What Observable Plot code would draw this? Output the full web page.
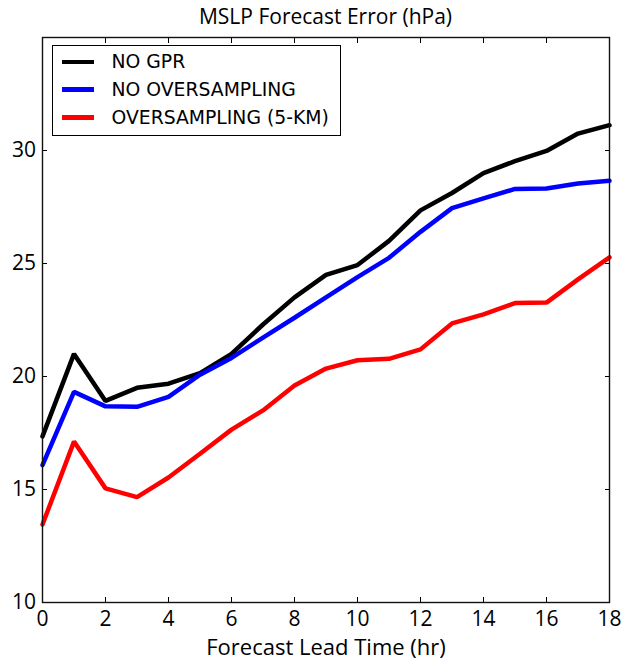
<!DOCTYPE html>
<html>
<head>
<meta charset="utf-8">
<script src="https://cdn.jsdelivr.net/npm/d3@7"></script>
<script src="https://cdn.jsdelivr.net/npm/@observablehq/plot@0.6"></script>
<style>
  body { margin: 0; background: #fff; font-family: "Open Sans", sans-serif; }
  #wrap { position: relative; width: 622px; height: 659px; }
  #title { position: absolute; left: 42px; width: 567px; top: 3px; text-align: center; font-size: 21px; color: #000; line-height: 27px; }
  #legend { position: absolute; left: 52px; top: 45px; width: 289px; height: 91px; border: 1.3px solid #000; background: #fff; box-sizing: border-box; padding-top: 2px; }
  .item { display: flex; align-items: center; height: 27.8px; font-family: "DejaVu Sans", sans-serif; font-size: 18.8px; color: #000; }
  .swatch { width: 32px; height: 4.5px; margin-left: 9px; margin-right: 17.5px; flex: none; }
</style>
</head>
<body>
<div id="wrap">
  <div id="chart"></div>
  <div id="title">MSLP Forecast Error (hPa)</div>
  <div id="legend"></div>
</div>
<script>
// Forecast lead time, hours
const leadTimes = [0, 1, 2, 3, 4, 5, 6, 7, 8, 9, 10, 11, 12, 13, 14, 15, 16, 17, 18];

// MSLP forecast error (hPa) for each experiment
const noGpr = [17.35, 21.0, 18.92, 19.5, 19.68, 20.15, 21.0, 22.3, 23.5, 24.5, 24.93, 26.0, 27.35, 28.12, 29.0, 29.53, 29.98, 30.75, 31.12];
const noOversampling = [16.08, 19.32, 18.68, 18.66, 19.1, 20.08, 20.82, 21.72, 22.6, 23.5, 24.4, 25.25, 26.4, 27.45, 27.88, 28.3, 28.32, 28.54, 28.66];
const oversampling5km = [13.45, 17.12, 15.05, 14.66, 15.53, 16.58, 17.65, 18.5, 19.6, 20.35, 20.72, 20.78, 21.2, 22.35, 22.75, 23.25, 23.27, 24.3, 25.27];

const seriesNames = ["NO GPR", "NO OVERSAMPLING", "OVERSAMPLING (5-KM)"];
const seriesColors = ["#000000", "#0000ff", "#ff0000"];
const seriesValues = [noGpr, noOversampling, oversampling5km];

const xTicks = [0, 2, 4, 6, 8, 10, 12, 14, 16, 18];
const yTicks = [10, 15, 20, 25, 30];

const rows = seriesNames.flatMap((name, i) =>
  leadTimes.map((h, j) => ({series: name, hour: h, error: seriesValues[i][j]}))
);

const noText = () => "";

const chart = Plot.plot({
  width: 622,
  height: 659,
  marginTop: 37,
  marginBottom: 57,
  marginLeft: 42,
  marginRight: 13,
  style: {fontFamily: "Open Sans", fontSize: "21px", color: "#000", background: "#fff", overflow: "visible"},
  x: {domain: [0, 18]},
  y: {domain: [10, 35]},
  color: {domain: seriesNames, range: seriesColors},
  marks: [
    Plot.line(rows, {x: "hour", y: "error", z: "series", stroke: "series", strokeWidth: 4.5, strokeLinejoin: "miter"}),
    // tick labels and axis titles
    Plot.axisX({ticks: xTicks, tickSize: 0, tickPadding: 8.5, tickFormat: d => String(d),
      label: "Forecast Lead Time (hr)", labelAnchor: "center", labelArrow: "none", labelOffset: 52}),
    Plot.axisY({ticks: yTicks, tickSize: 0, tickPadding: 6.5, tickFormat: d => String(d), label: null}),
    // inward tick marks on all four sides
    Plot.axisX({ticks: xTicks, tickSize: -5, tickFormat: noText, label: null}),
    Plot.axisX({anchor: "top", ticks: xTicks, tickSize: -5, tickFormat: noText, label: null}),
    Plot.axisY({ticks: yTicks, tickSize: -5, tickFormat: noText, label: null}),
    Plot.axisY({anchor: "right", ticks: yTicks, tickSize: -5, tickFormat: noText, label: null}),
    Plot.frame({stroke: "#111", strokeWidth: 1.4})
  ]
});
document.getElementById("chart").appendChild(chart);

// Axis title slightly larger than the tick labels
d3.select(chart).selectAll("[aria-label='x-axis label'] text").style("font-size", "22px");

// Legend box in the upper-left corner of the axes
const legend = d3.select("#legend");
seriesNames.forEach((name, i) => {
  const item = legend.append("div").attr("class", "item");
  item.append("div").attr("class", "swatch").style("background", seriesColors[i]);
  item.append("span").text(name);
});
</script>
</body>
</html>
